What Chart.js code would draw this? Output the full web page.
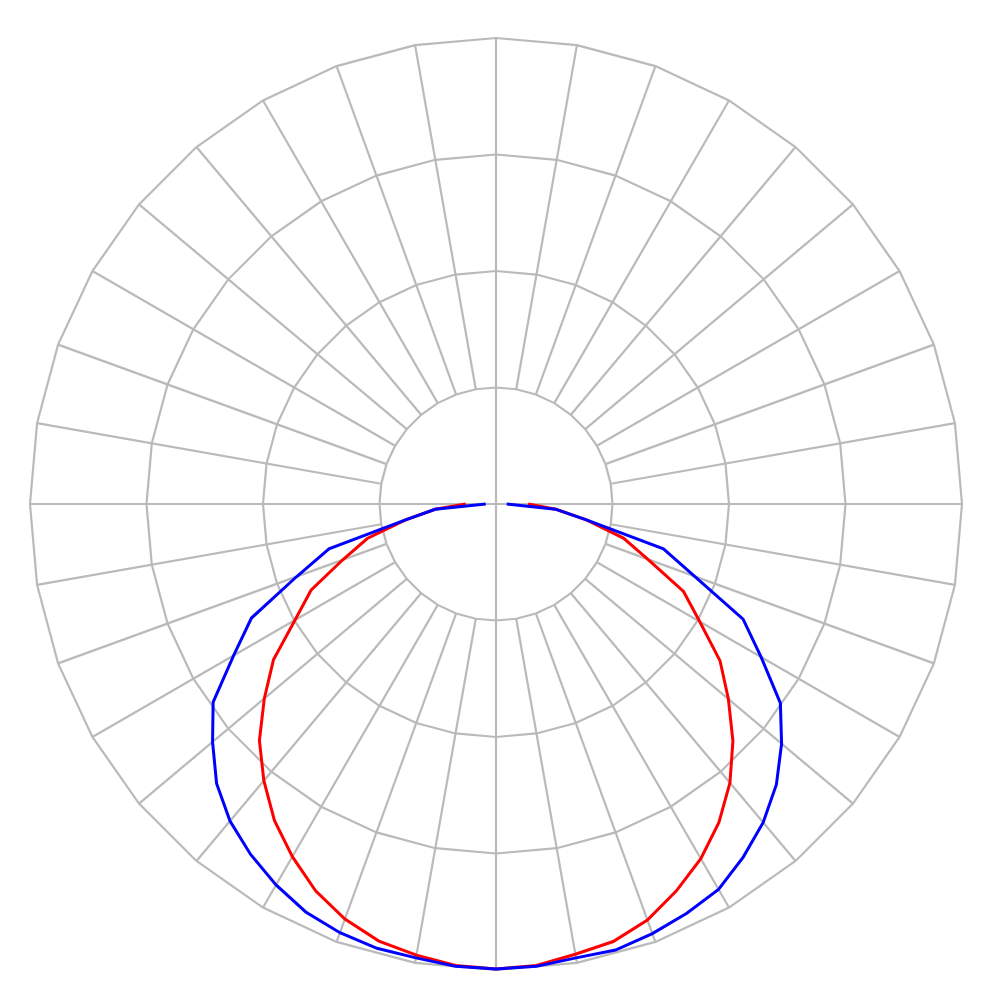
<!DOCTYPE html>
<html>
<head>
<meta charset="utf-8">
<script src="https://cdn.jsdelivr.net/npm/chart.js@4/dist/chart.umd.min.js"></script>
<style>
  html, body { margin: 0; padding: 0; background: #fff; }
  #wrap { width: 1000px; height: 1000px; }
</style>
</head>
<body>
<div id="wrap"><canvas id="polar"></canvas></div>
<script>
// angle labels, 5 deg steps, clockwise from the top (gamma 180 at top, 0 at the bottom)
const labels = [];
for (let a = 0; a < 360; a += 5) labels.push(a + '°');

// gamma 90 -> 0, right half (C0)
const blueRight = [2.3, 12.8, 19.7, 37.2, 45.3, 58.5, 65.7, 74.5, 80.0, 85.1, 89.2, 92.5, 95.5, 96.9, 98.1, 99.1, 98.9, 99.6, 99.8];
// gamma 5 -> 90, left half (C180)
const blueLeft = [99.6, 98.9, 98.7, 97.9, 96.6, 94.4, 91.8, 88.8, 84.8, 79.4, 74.1, 65.0, 57.9, 45.5, 37.1, 19.7, 13.1, 2.2];

const redRight = [6.9, 12.9, 19.7, 28.3, 34.7, 44.4, 50.5, 58.7, 65.1, 71.9, 78.1, 83.4, 87.9, 91.6, 95.0, 97.2, 98.1, 99.4, 99.8];
const redLeft = [99.4, 98.3, 97.1, 94.8, 91.6, 87.4, 82.9, 77.5, 71.8, 64.9, 58.3, 49.8, 43.8, 35.0, 28.6, 19.7, 13.1, 6.5];

const ringValues = [25, 50, 75, 100];

const pad = n => Array(n).fill(null);
const blueData = pad(18).concat(blueRight, blueLeft, pad(17));
const redData = pad(18).concat(redRight, redLeft, pad(17));

const gridColor = '#bababa';

// draws the 10 degree grid: rings as 36-gons, spokes from the inner ring out,
// only the main cross goes through the centre
const polarGrid = {
  id: 'polarGrid',
  beforeDatasetsDraw(chart) {
    const s = chart.scales.r;
    const ctx = chart.ctx;
    ctx.save();
    ctx.strokeStyle = gridColor;
    ctx.lineWidth = 2.2;
    ctx.lineJoin = 'miter';

    ringValues.forEach(v => {
      const d = s.getDistanceFromCenterForValue(v);
      ctx.beginPath();
      for (let i = 0; i < labels.length; i += 2) {
        const p = s.getPointPosition(i, d);
        if (i === 0) ctx.moveTo(p.x, p.y); else ctx.lineTo(p.x, p.y);
      }
      ctx.closePath();
      ctx.stroke();
    });

    const inner = s.getDistanceFromCenterForValue(ringValues[0]);
    const outer = s.getDistanceFromCenterForValue(ringValues[ringValues.length - 1]);
    for (let i = 0; i < labels.length; i += 2) {
      const cross = i % 18 === 0;
      const a = s.getPointPosition(i, cross ? 0 : inner);
      const b = s.getPointPosition(i, outer);
      ctx.beginPath();
      ctx.moveTo(a.x, a.y);
      ctx.lineTo(b.x, b.y);
      ctx.stroke();
    }
    ctx.restore();
  }
};

new Chart(document.getElementById('polar'), {
  type: 'radar',
  data: {
    labels: labels,
    datasets: [
      {
        label: 'C0-C180 (2)',
        data: blueData,
        borderColor: '#0000ff',
        borderWidth: 3,
        fill: false,
        pointRadius: 0,
        spanGaps: false
      },
      {
        label: 'C0-C180 (1)',
        data: redData,
        borderColor: '#ff0000',
        borderWidth: 3,
        fill: false,
        pointRadius: 0,
        spanGaps: false
      }
    ]
  },
  options: {
    responsive: true,
    maintainAspectRatio: false,
    animation: false,
    layout: { padding: { left: 30, right: 38, top: 38, bottom: 30 } },
    plugins: {
      legend: { display: false },
      tooltip: { enabled: false }
    },
    scales: {
      r: {
        min: 0,
        max: 100,
        ticks: { display: false, stepSize: 25 },
        grid: { display: false },
        angleLines: { display: false },
        pointLabels: { display: false }
      }
    }
  },
  plugins: [polarGrid]
});
</script>
</body>
</html>
